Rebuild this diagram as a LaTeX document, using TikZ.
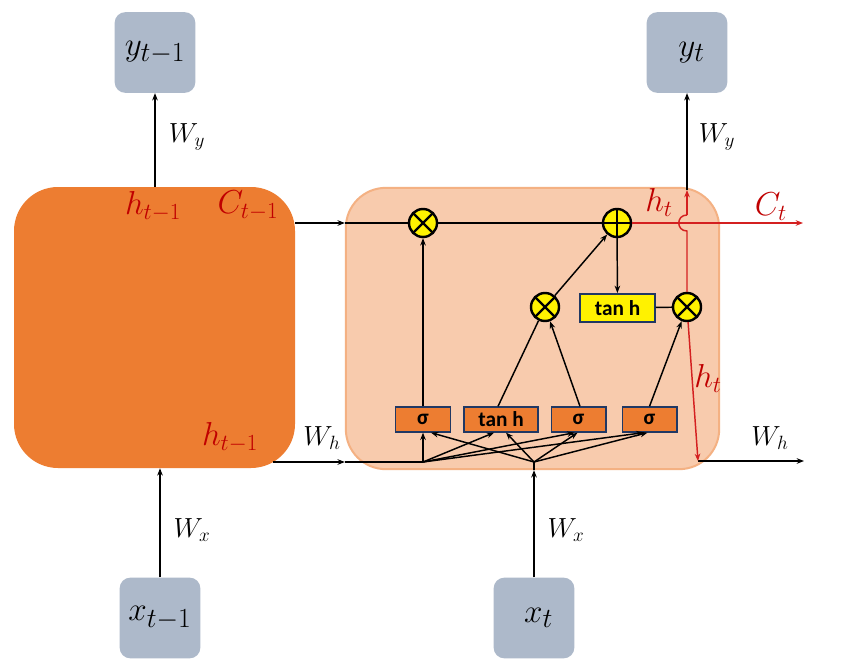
\documentclass[tikz,border=0pt]{standalone}
\usepackage{fontspec}
\setsansfont{Carlito}
\usetikzlibrary{arrows.meta,calc}
\definecolor{dorange}{HTML}{ED7D31}
\definecolor{lorange}{HTML}{F8CBAD}
\definecolor{borange}{HTML}{F4B183}
\definecolor{greybox}{HTML}{ADB9CA}
\definecolor{dred}{HTML}{C00000}
\definecolor{lred}{HTML}{D42020}
\definecolor{navy}{HTML}{203864}
\begin{document}
\begin{tikzpicture}[x=0.75pt,y=-0.75pt,
  >={Stealth[length=5.5pt,width=4.2pt]},
  conn/.style={line width=1.1pt, black},
  rconn/.style={line width=1.1pt, lred},
  iobox/.style={rectangle, rounded corners=8pt, fill=greybox, minimum width=60.5pt, minimum height=60.5pt, inner sep=0pt, font=\fontsize{28}{32}\selectfont},
  op/.style={circle, fill=yellow, draw=black, line width=1.8pt, minimum size=21pt, inner sep=0pt},
  mult/.style={op, path picture={\draw[line width=1.8pt] (path picture bounding box.north west) -- (path picture bounding box.south east) (path picture bounding box.north east) -- (path picture bounding box.south west);}},
  plus/.style={op, path picture={\draw[line width=1.8pt] (path picture bounding box.north) -- (path picture bounding box.south) (path picture bounding box.west) -- (path picture bounding box.east);}},
  gate/.style={rectangle, fill=dorange, draw=navy, line width=1pt, minimum height=18.75pt, inner sep=0pt, font=\sffamily\bfseries\fontsize{16}{18}\selectfont},
  lab/.style={font=\fontsize{24}{28}\selectfont, text=dred, inner sep=0pt},
  wlab/.style={font=\fontsize{21}{25}\selectfont, inner sep=0pt}
]
\useasboundingbox[fill=white] (0,0) rectangle (848,663);

% cells
\node[rectangle, rounded corners=33pt, fill=dorange, minimum width=210.75pt, minimum height=210.75pt, inner sep=0pt] (leftcell) at (154.5,327.5) {};
\node[rectangle, rounded corners=30pt, fill=lorange, draw=borange, line width=1.5pt, minimum width=280pt, minimum height=211pt, inner sep=0pt] (rightcell) at (532.5,328.5) {};

% input / output boxes
\node[iobox] (ybox1) at (155,52.5) {$y_{t-1}$};
\node[iobox] (ybox2) at (687,52.5) {$\;y_t$};
\node[iobox] (xbox1) at (160,618) {$x_{t-1}$};
\node[iobox] (xbox2) at (534,618) {$\;x_t$};

% operators
\node[mult] (m1) at (423,223) {};
\node[plus] (p1) at (617,223) {};
\node[mult] (m2) at (545,307) {};
\node[mult] (m3) at (687,307) {};
\node[rectangle, fill=yellow, draw=navy, line width=1.5pt, minimum width=56pt, minimum height=21pt, inner sep=0pt, font=\sffamily\bfseries\fontsize{16}{18}\selectfont] (th) at (617.5,308) {tan h};

% gates
\node[gate, minimum width=41pt] (s1) at (423,419.5) {σ};
\node[gate, minimum width=55.5pt] (tb) at (501,419.5) {tan h};
\node[gate, minimum width=41pt] (s2) at (578.5,419.5) {σ};
\node[gate, minimum width=41pt] (s3) at (649.5,419.5) {σ};

% coordinates
\coordinate (j1) at (423,462);
\coordinate (j2) at (534,462);
\coordinate (wh0) at (273,462);
\coordinate (ctend) at (803,223);
\coordinate (hop1) at (687,231);
\coordinate (hop2) at (687,215);
\coordinate (httop) at (687,190);
\coordinate (hdown) at (698,461);
\coordinate (whend) at (804,461);

% output arrows
\draw[conn,->] (leftcell.north -| ybox1.south) -- (ybox1.south);
\draw[conn,->] (httop) -- (ybox2.south);
% input arrows
\draw[conn,->] (xbox1.north) -- (xbox1.north |- leftcell.south);
\draw[conn,->] (xbox2.north) -- (xbox2.north |- rightcell.south);
\draw[conn] (xbox2.north |- rightcell.south) -- (j2);

% cell state line
\draw[conn,->] (leftcell.east |- m1) -- (rightcell.west |- m1);
\draw[conn] (rightcell.west |- m1) -- (m1);
\draw[conn] (m1) -- (p1);
\draw[rconn,->] (p1) -- (ctend);

% hidden line
\draw[conn,->] (wh0) -- (wh0 -| rightcell.west);
\draw[conn] (wh0 -| rightcell.west) -- (j1);
\draw[conn,->] (hdown) -- (whend);

% fan from j1
\draw[conn,->] (j1) -- (s1.south);
\draw[conn,->] (j1) -- ($(tb.south)+(-7,0)$);
\draw[conn,->] (j1) -- ($(s2.south)+(-4,0)$);
\draw[conn,->] (j1) -- ($(s3.south)+(-6,0)$);
% fan from j2
\draw[conn,->] (j2) -- ($(s1.south)+(8,0)$);
\draw[conn,->] (j2) -- ($(tb.south)+(5,0)$);
\draw[conn,->] (j2) -- ($(s2.south)+(-1,0)$);
\draw[conn,->] (j2) -- ($(s3.south)+(-2,0)$);

% gate outputs
\draw[conn,->] (s1.north) -- (m1);
\draw[conn] ($(tb.north)+(-3,0)$) -- (m2);
\draw[conn,->] ($(s2.north)+(1.5,0)$) -- (m2);
\draw[conn,->] (s3.north) -- (m3);
\draw[conn,->] (m2) -- (p1);
\draw[conn,->] (p1) -- (th);
\draw[conn] (th) -- (m3);

% h_t red lines
\draw[rconn] (m3) -- (hop1) .. controls (676,231) and (676,215) .. (hop2);
\draw[rconn,->] (hop2) -- (httop);
\draw[rconn,->] (m3) -- (hdown);

% labels
\node[lab] (lh1) at (153,206) {$h_{t-1}$};
\node[lab] (lc1) at (248,206) {$C_{t-1}$};
\node[lab] (lh2) at (230,437) {$h_{t-1}$};
\node[lab] (lht) at (659,202) {$h_t$};
\node[lab] (lct) at (771,207) {$C_t$};
\node[lab] (lhd) at (708,378) {$h_t$};
\node[wlab] (wy1) at (187,137) {$W_y$};
\node[wlab] (wy2) at (717,137) {$W_y$};
\node[wlab] (wx1) at (192,530) {$W_x$};
\node[wlab] (wx2) at (566,530) {$W_x$};
\node[wlab] (wh1) at (322,438) {$W_h$};
\node[wlab] (wh2) at (770,438) {$W_h$};
\end{tikzpicture}
\end{document}
